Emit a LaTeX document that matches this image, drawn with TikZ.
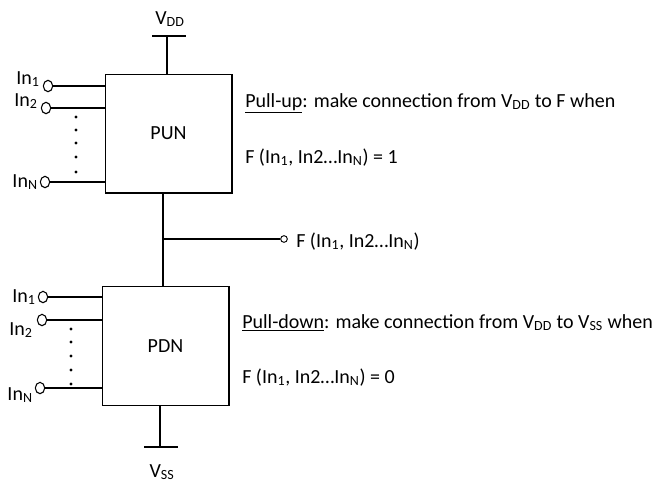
\documentclass[tikz,border=0pt]{standalone}
\usepackage{fontspec}
\setmainfont{Carlito}
\usetikzlibrary{shapes.geometric}
\begin{document}
\begin{tikzpicture}[x=0.75pt,y=-0.75pt,
  wire/.style={draw=black,line width=1pt},
  blk/.style={draw=black,line width=1pt,minimum width=95pt,minimum height=89pt,inner sep=0pt,font=\fontsize{15}{17}\selectfont},
  pin/.style={ellipse,draw=black,line width=0.8pt,fill=white,inner sep=0pt,minimum width=7pt,minimum height=8.5pt},
  opin/.style={circle,draw=black,line width=0.7pt,fill=white,inner sep=0pt,minimum size=5pt},
  lbl/.style={inner sep=0pt,font=\fontsize{15}{17}\selectfont},
  dotn/.style={circle,fill=black,inner sep=0pt,minimum size=2.4pt}]
\useasboundingbox (0,0) rectangle (655,483);
% blocks
\node[blk] (pun) at (168.5,133.5) {PUN};
\node[blk] (pdn) at (165.5,346) {PDN};
% supply
\coordinate (vddtop) at (167,36);
\coordinate (vddl) at (152,36);
\coordinate (vddr) at (186,36);
\draw[wire] (vddtop) -- (vddtop |- pun.north);
\draw[wire] (vddl) -- (vddr);
\node[lbl,anchor=base] (vdd) at (170,24) {V\textsubscript{DD}};
\coordinate (vssb) at (160,447);
\coordinate (vssl) at (144,447);
\coordinate (vssr) at (178,447);
\draw[wire] (vssb |- pdn.south) -- (vssb);
\draw[wire] (vssl) -- (vssr);
\node[lbl,anchor=base] (vss) at (162,477) {V\textsubscript{SS}};
% middle
\coordinate (mtop) at (163,193);
\coordinate (mjoin) at (163,239);
\draw[wire] (mtop |- pun.south) -- (mtop |- pdn.north);
\node[opin] (fout) at (284,239) {};
\draw[wire] (mjoin) -- (fout);
\node[lbl,anchor=base west] (ftxt) at (296,247) {F (In\textsubscript{1}, In2…In\textsubscript{N})};
% PUN inputs
\node[pin] (ua) at (48,86) {};
\node[pin] (ub) at (46,108) {};
\node[pin] (un) at (45,182) {};
\draw[wire] (ua) -- (ua -| pun.west);
\draw[wire] (ub) -- (ub -| pun.west);
\draw[wire] (un) -- (un -| pun.west);
\node[lbl,anchor=base east] (ual) at (40,84) {In\textsubscript{1}};
\node[lbl,anchor=base east] (ubl) at (38,106) {In\textsubscript{2}};
\node[lbl,anchor=base east] (unl) at (38,187) {In\textsubscript{N}};
\foreach \yy [count=\k] in {117,130,143,157,172} \node[dotn] (ud\k) at (76,\yy) {};
% PDN inputs
\node[pin] (da) at (43,297) {};
\node[pin] (db) at (42,320) {};
\node[pin] (dn) at (40,388) {};
\draw[wire] (da) -- (da -| pdn.west);
\draw[wire] (db) -- (db -| pdn.west);
\draw[wire] (dn) -- (dn -| pdn.west);
\node[lbl,anchor=base east] (dal) at (36,302) {In\textsubscript{1}};
\node[lbl,anchor=base west] (dbl) at (9,335) {In\textsubscript{2}};
\node[lbl,anchor=base east] (dnl) at (33,400) {In\textsubscript{N}};
\foreach \yy [count=\k] in {329,342,356,370,384} \node[dotn] (dd\k) at (71,\yy) {};
% descriptions
\node[lbl,anchor=base west] (t1) at (245,107) {\underline{Pull-up}: make connection from V\textsubscript{DD} to F when};
\node[lbl,anchor=base west] (t2) at (245,163) {F (In\textsubscript{1}, In2…In\textsubscript{N}) = 1};
\node[lbl,anchor=base west] (t3) at (242,328) {\underline{Pull-down}: make connection from V\textsubscript{DD} to V\textsubscript{SS} when};
\node[lbl,anchor=base west] (t4) at (242,383) {F (In\textsubscript{1}, In2…In\textsubscript{N}) = 0};
\end{tikzpicture}
\end{document}
